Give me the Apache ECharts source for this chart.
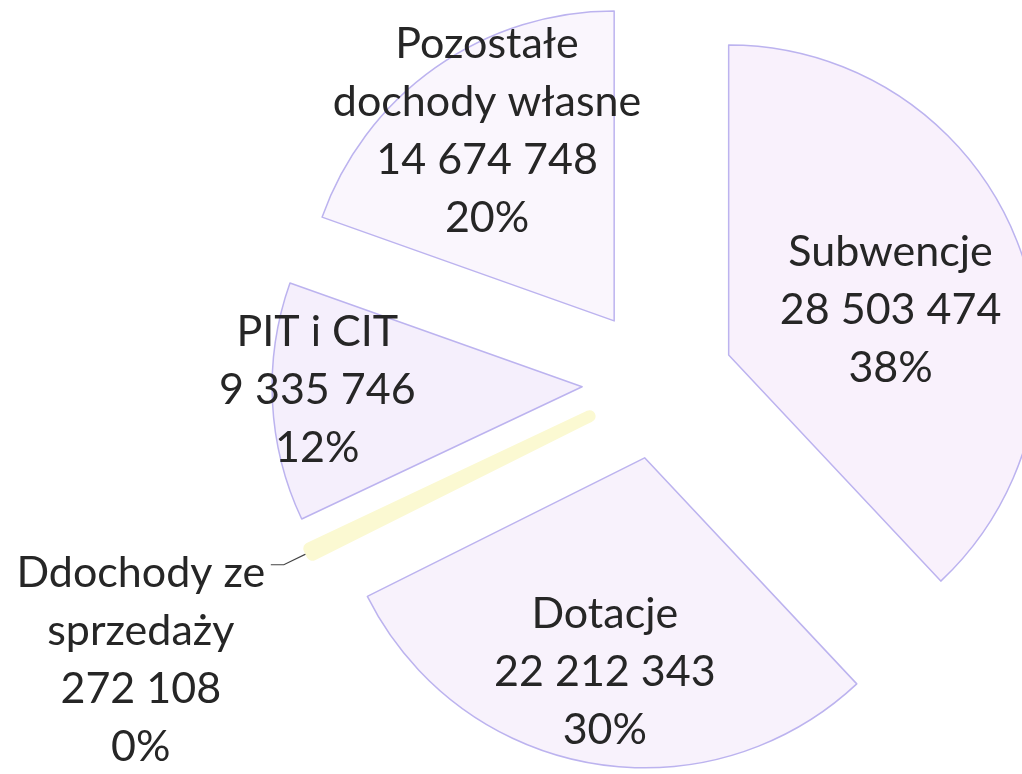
<!DOCTYPE html>
<html>
<head>
<meta charset="utf-8">
<title>Dochody</title>
<script src="https://cdn.jsdelivr.net/npm/echarts@6/dist/echarts.min.js"></script>
<style>
  html, body { margin: 0; padding: 0; background: #fff; }
  #chart { width: 1022px; height: 774px; }
</style>
</head>
<body>
<div id="chart"></div>
<script>
  // kolejność jak na wykresie: zgodnie z ruchem wskazówek zegara od godziny 12
  const names = ["Subwencje", "Dotacje", "Ddochody ze\nsprzedaży", "PIT i CIT", "Pozostałe\ndochody własne"];
  const values = [28503474, 22212343, 272108, 9335746, 14674748];
  const percentLabels = ["38%", "30%", "0%", "12%", "20%"];

  const sliceColors = ["#f9f1fc", "#f8f2fc", "#fbf9d2", "#f5effc", "#faf6fd"];
  // przesunięcie etykiet względem domyślnej pozycji
  const labelNudge = [[15, 13], [-12, 59], [-125, 95], [-107, -4], [-36, -61]];

  const fmt = (v) => String(v).replace(/\B(?=(\d{3})+(?!\d))/g, " ");

  const chart = echarts.init(document.getElementById("chart"));

  const textStyle = {
    fontFamily: "Lato, 'Open Sans', 'DejaVu Sans', sans-serif",
    fontSize: 43,
    lineHeight: 58,
    color: "#262626",
  };

  chart.setOption({
    animation: false,
    backgroundColor: "#ffffff",
    series: [
      {
        type: "pie",
        center: [658, 383],
        radius: [0, 310],
        startAngle: 90,
        clockwise: true,
        selectedMode: "multiple",
        selectedOffset: 76,
        avoidLabelOverlap: false,
        emphasis: { disabled: true },
        itemStyle: { borderColor: "#bcb3ef", borderWidth: 1.5 },
        label: Object.assign({ position: "inside", formatter: (p) => p.name + "\n" + fmt(p.value) + "\n" + percentLabels[p.dataIndex] }, textStyle),
        labelLine: { show: false },
        labelLayout: (p) => {
          const n = labelNudge[p.dataIndex];
          const out = { dx: n[0], dy: n[1] };
          if (p.dataIndex === 2) out.align = "center";
          return out;
        },
        data: names.map((name, i) => {
          const item = {
            name: name,
            value: values[i],
            selected: true,
            itemStyle: { color: sliceColors[i] },
          };
          if (i === 2) {
            item.itemStyle.borderColor = "#fbf9d2";
            item.itemStyle.borderWidth = 12;
            item.label = Object.assign({ position: "outside" }, textStyle);
            item.labelLine = { show: true, length: 30, length2: 13, lineStyle: { color: "#444", width: 1.2 } };
          }
          return item;
        }),
      },
    ],
  });
</script>
</body>
</html>
